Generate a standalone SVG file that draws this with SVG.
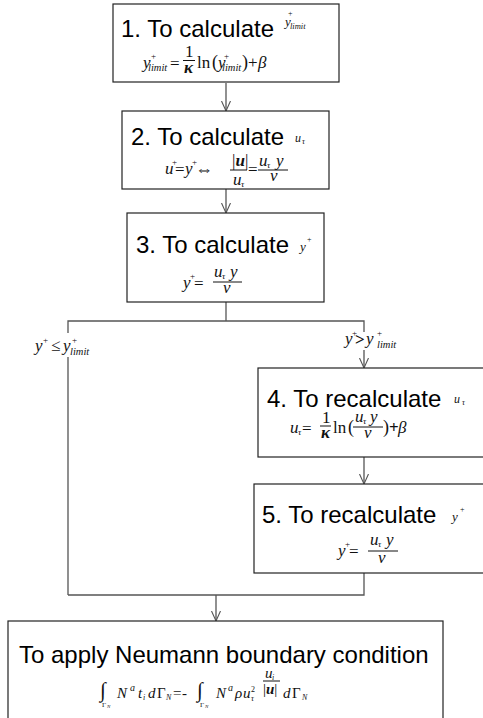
<svg xmlns="http://www.w3.org/2000/svg" width="483" height="718" viewBox="0 0 483 718">
<style>
.box{fill:#fff;stroke:#222;stroke-width:1.2}
.c{fill:none;stroke:#555;stroke-width:1.3}
.t{font-family:"Liberation Sans",Arial,sans-serif;font-size:24px;fill:#000}
.m{font-family:"Liberation Serif","Times New Roman",serif;font-style:italic;font-size:17px;fill:#111}
.r{font-family:"Liberation Serif","Times New Roman",serif;font-style:normal;font-size:17px;fill:#111}
.sp{font-size:9px;font-style:normal}
.sb{font-size:10.5px}
.tiny{font-size:9px}
.b{font-weight:bold}
.bar{stroke:#111;stroke-width:1}
</style>
<defs>
<marker id="v" markerWidth="12" markerHeight="12" refX="10" refY="5" orient="auto" markerUnits="userSpaceOnUse" viewBox="0 0 12 10">
<path d="M0,0.5 L10,5 L0,9.5" fill="none" stroke="#555" stroke-width="1.1"/>
</marker>
</defs>
<g id="connectors">
<line class="c" x1="226" y1="83" x2="226" y2="111" marker-end="url(#v)"/>
<line class="c" x1="226" y1="189" x2="226" y2="213" marker-end="url(#v)"/>
<polyline class="c" points="226,302 226,321"/>
<polyline class="c" points="68,595 68,321 364,321 364,368" marker-end="url(#v)"/>
<line class="c" x1="364" y1="457" x2="364" y2="484" marker-end="url(#v)"/>
<polyline class="c" points="364,573 364,595 68,595"/>
<line class="c" x1="216" y1="595" x2="216" y2="621" marker-end="url(#v)"/>
<g id="label-le">
<rect x="33" y="333" width="62" height="24" fill="#fff"/>
<text class="m" x="35" y="351">y</text>
<text class="m sp" x="43" y="343">+</text>
<text class="r" x="51" y="351">≤</text>
<text class="m" x="63" y="351">y</text>
<text class="m sp" x="72" y="343">+</text>
<text class="m sb" x="70" y="355">limit</text>
</g>
<g id="label-gt">
<rect x="343" y="332" width="60" height="18" fill="#fff"/>
<text class="m" x="345" y="344">y</text>
<text class="m sp" x="352" y="336">+</text>
<text class="r b" x="355" y="345">&gt;</text>
<text class="m" x="366" y="344">y</text>
<text class="m sp" x="377" y="336">+</text>
<text class="m sb" x="377" y="348">limit</text>
</g>
</g>
<g id="n1">
<rect class="box" x="113" y="4" width="226" height="78"/>
<text class="t" x="121" y="37">1. To calculate</text>
<text class="m" x="285" y="26" style="font-size:13px">y</text>
<text class="r" x="288" y="16" style="font-size:8px">+</text>
<text class="m" x="290" y="29" style="font-size:8.5px">limit</text>
<text class="m" x="143" y="68">y</text>
<text class="m sp" x="151" y="59">+</text>
<text class="m sb" x="148" y="71">limit</text>
<text class="r" x="170" y="69">=</text>
<text class="r" x="185" y="57">1</text>
<line class="bar" x1="183" y1="60.5" x2="195" y2="60.5"/>
<text class="m b" x="184" y="73">κ</text>
<text class="r" x="197" y="68">ln</text>
<text class="r" x="212" y="68" style="font-size:18px">(</text>
<text class="m" x="218" y="68">y</text>
<text class="m sp" x="224" y="59">+</text>
<text class="m sb" x="222" y="71">limit</text>
<text class="r" x="242" y="68" style="font-size:18px">)</text>
<text class="r" x="248" y="68">+</text>
<text class="m" x="258" y="68">β</text>
</g>
<g id="n2">
<rect class="box" x="122" y="111" width="207" height="78"/>
<text class="t" x="131" y="145">2. To calculate</text>
<text class="m" x="295" y="142" style="font-size:12px">u</text>
<text class="m" x="302" y="144" style="font-size:8px">τ</text>
<text class="m" x="165" y="174">u</text>
<text class="m sp" x="172" y="165">+</text>
<text class="r" x="175" y="175">=</text>
<text class="m" x="185" y="174">y</text>
<text class="m sp" x="192" y="165">+</text>
<text class="r" x="195" y="175" style="font-size:18px">⇔</text>
<text class="r" x="232" y="166">|<tspan style="font-weight:bold;font-style:italic">u</tspan>|</text>
<line class="bar" x1="230" y1="170" x2="247" y2="170"/>
<text class="m" x="233" y="185">u</text>
<text class="m tiny" x="241" y="187">τ</text>
<text class="r" x="248" y="175">=</text>
<text class="m" x="259" y="166">u</text>
<text class="m tiny" x="267" y="168">τ</text>
<text class="m" x="276" y="166">y</text>
<line class="bar" x1="258" y1="170" x2="288" y2="170"/>
<text class="m" x="270" y="181">ν</text>
</g>
<g id="n3">
<rect class="box" x="127" y="213" width="197" height="89"/>
<text class="t" x="136" y="253">3. To calculate</text>
<text class="m" x="300" y="251" style="font-size:13px">y</text>
<text class="r" x="307" y="242" style="font-size:8px">+</text>
<text class="m" x="183" y="288">y</text>
<text class="m sp" x="190" y="279">+</text>
<text class="r" x="194" y="289">=</text>
<text class="m" x="214" y="277">u</text>
<text class="m tiny" x="222" y="279">τ</text>
<text class="m" x="230" y="277">y</text>
<line class="bar" x1="213" y1="282" x2="242" y2="282"/>
<text class="m" x="223" y="293">ν</text>
</g>
<g id="n4">
<rect class="box" x="258" y="368" width="240" height="89"/>
<text class="t" x="267" y="407">4. To recalculate</text>
<text class="m" x="454" y="403" style="font-size:12px">u</text>
<text class="m" x="462" y="405" style="font-size:8px">τ</text>
<text class="m" x="290" y="433">u</text>
<text class="m tiny" x="298" y="435">τ</text>
<text class="r" x="302" y="434">=</text>
<text class="r" x="322" y="423">1</text>
<line class="bar" x1="320" y1="426" x2="331" y2="426"/>
<text class="m b" x="321" y="438">κ</text>
<text class="r" x="333" y="433">ln</text>
<text class="r" x="348" y="433" style="font-size:18px">(</text>
<text class="m" x="355" y="422">u</text>
<text class="m tiny" x="363" y="424">τ</text>
<text class="m" x="370" y="422">y</text>
<line class="bar" x1="353" y1="427" x2="383" y2="427"/>
<text class="m" x="364" y="438">ν</text>
<text class="r" x="383" y="433" style="font-size:18px">)</text>
<text class="r b" x="389" y="433">+</text>
<text class="m" x="398" y="433">β</text>
</g>
<g id="n5">
<rect class="box" x="254" y="484" width="244" height="89"/>
<text class="t" x="262" y="523">5. To recalculate</text>
<text class="m" x="452" y="521" style="font-size:13px">y</text>
<text class="r" x="460" y="512" style="font-size:8px">+</text>
<text class="m" x="338" y="556">y</text>
<text class="m sp" x="345" y="547">+</text>
<text class="r" x="349" y="557">=</text>
<text class="m" x="370" y="545">u</text>
<text class="m tiny" x="378" y="547">τ</text>
<text class="m" x="386" y="545">y</text>
<line class="bar" x1="368" y1="551" x2="398" y2="551"/>
<text class="m" x="378" y="563">ν</text>
</g>
<g id="n6">
<rect class="box" x="8" y="621" width="435" height="110"/>
<text class="t" x="19" y="663">To apply Neumann boundary condition</text>
<text class="r" x="100" y="697" style="font-size:21px">∫</text>
<text class="r" x="102" y="707" style="font-size:7px">Γ</text>
<text class="m" x="107" y="708" style="font-size:5px">N</text>
<text class="m" x="117" y="698" style="font-size:15px">N</text>
<text class="m" x="130" y="691" style="font-size:10px">a</text>
<text class="m" x="138" y="698" style="font-size:15px">t</text>
<text class="m" x="143" y="700" style="font-size:8px">i</text>
<text class="m" x="148" y="698" style="font-size:15px">d</text>
<text class="r" x="157" y="698" style="font-size:15px">Γ</text>
<text class="m" x="166" y="700" style="font-size:8px">N</text>
<text class="r" x="173" y="698" style="font-size:15px">=</text>
<text class="r" x="182" y="698" style="font-size:15px">-</text>
<text class="r" x="197" y="697" style="font-size:21px">∫</text>
<text class="r" x="200" y="707" style="font-size:7px">Γ</text>
<text class="m" x="205" y="708" style="font-size:5px">N</text>
<text class="m" x="216" y="698" style="font-size:15px">N</text>
<text class="m" x="228" y="691" style="font-size:10px">a</text>
<text class="m" x="235" y="698" style="font-size:15px">ρ</text>
<text class="m" x="243" y="698" style="font-size:15px">u</text>
<text class="r" x="251" y="692" style="font-size:8px">2</text>
<text class="m" x="251" y="701" style="font-size:8px">τ</text>
<text class="m" x="265" y="678" style="font-size:15px">u</text>
<text class="m" x="272" y="680" style="font-size:8px">i</text>
<line class="bar" x1="263" y1="681" x2="280" y2="681"/>
<text class="r" x="263" y="694" style="font-size:15px">|<tspan style="font-weight:bold;font-style:italic">u</tspan>|</text>
<text class="m" x="283" y="698" style="font-size:15px">d</text>
<text class="r" x="292" y="698" style="font-size:15px">Γ</text>
<text class="m" x="302" y="700" style="font-size:8px">N</text>
</g>
</svg>
